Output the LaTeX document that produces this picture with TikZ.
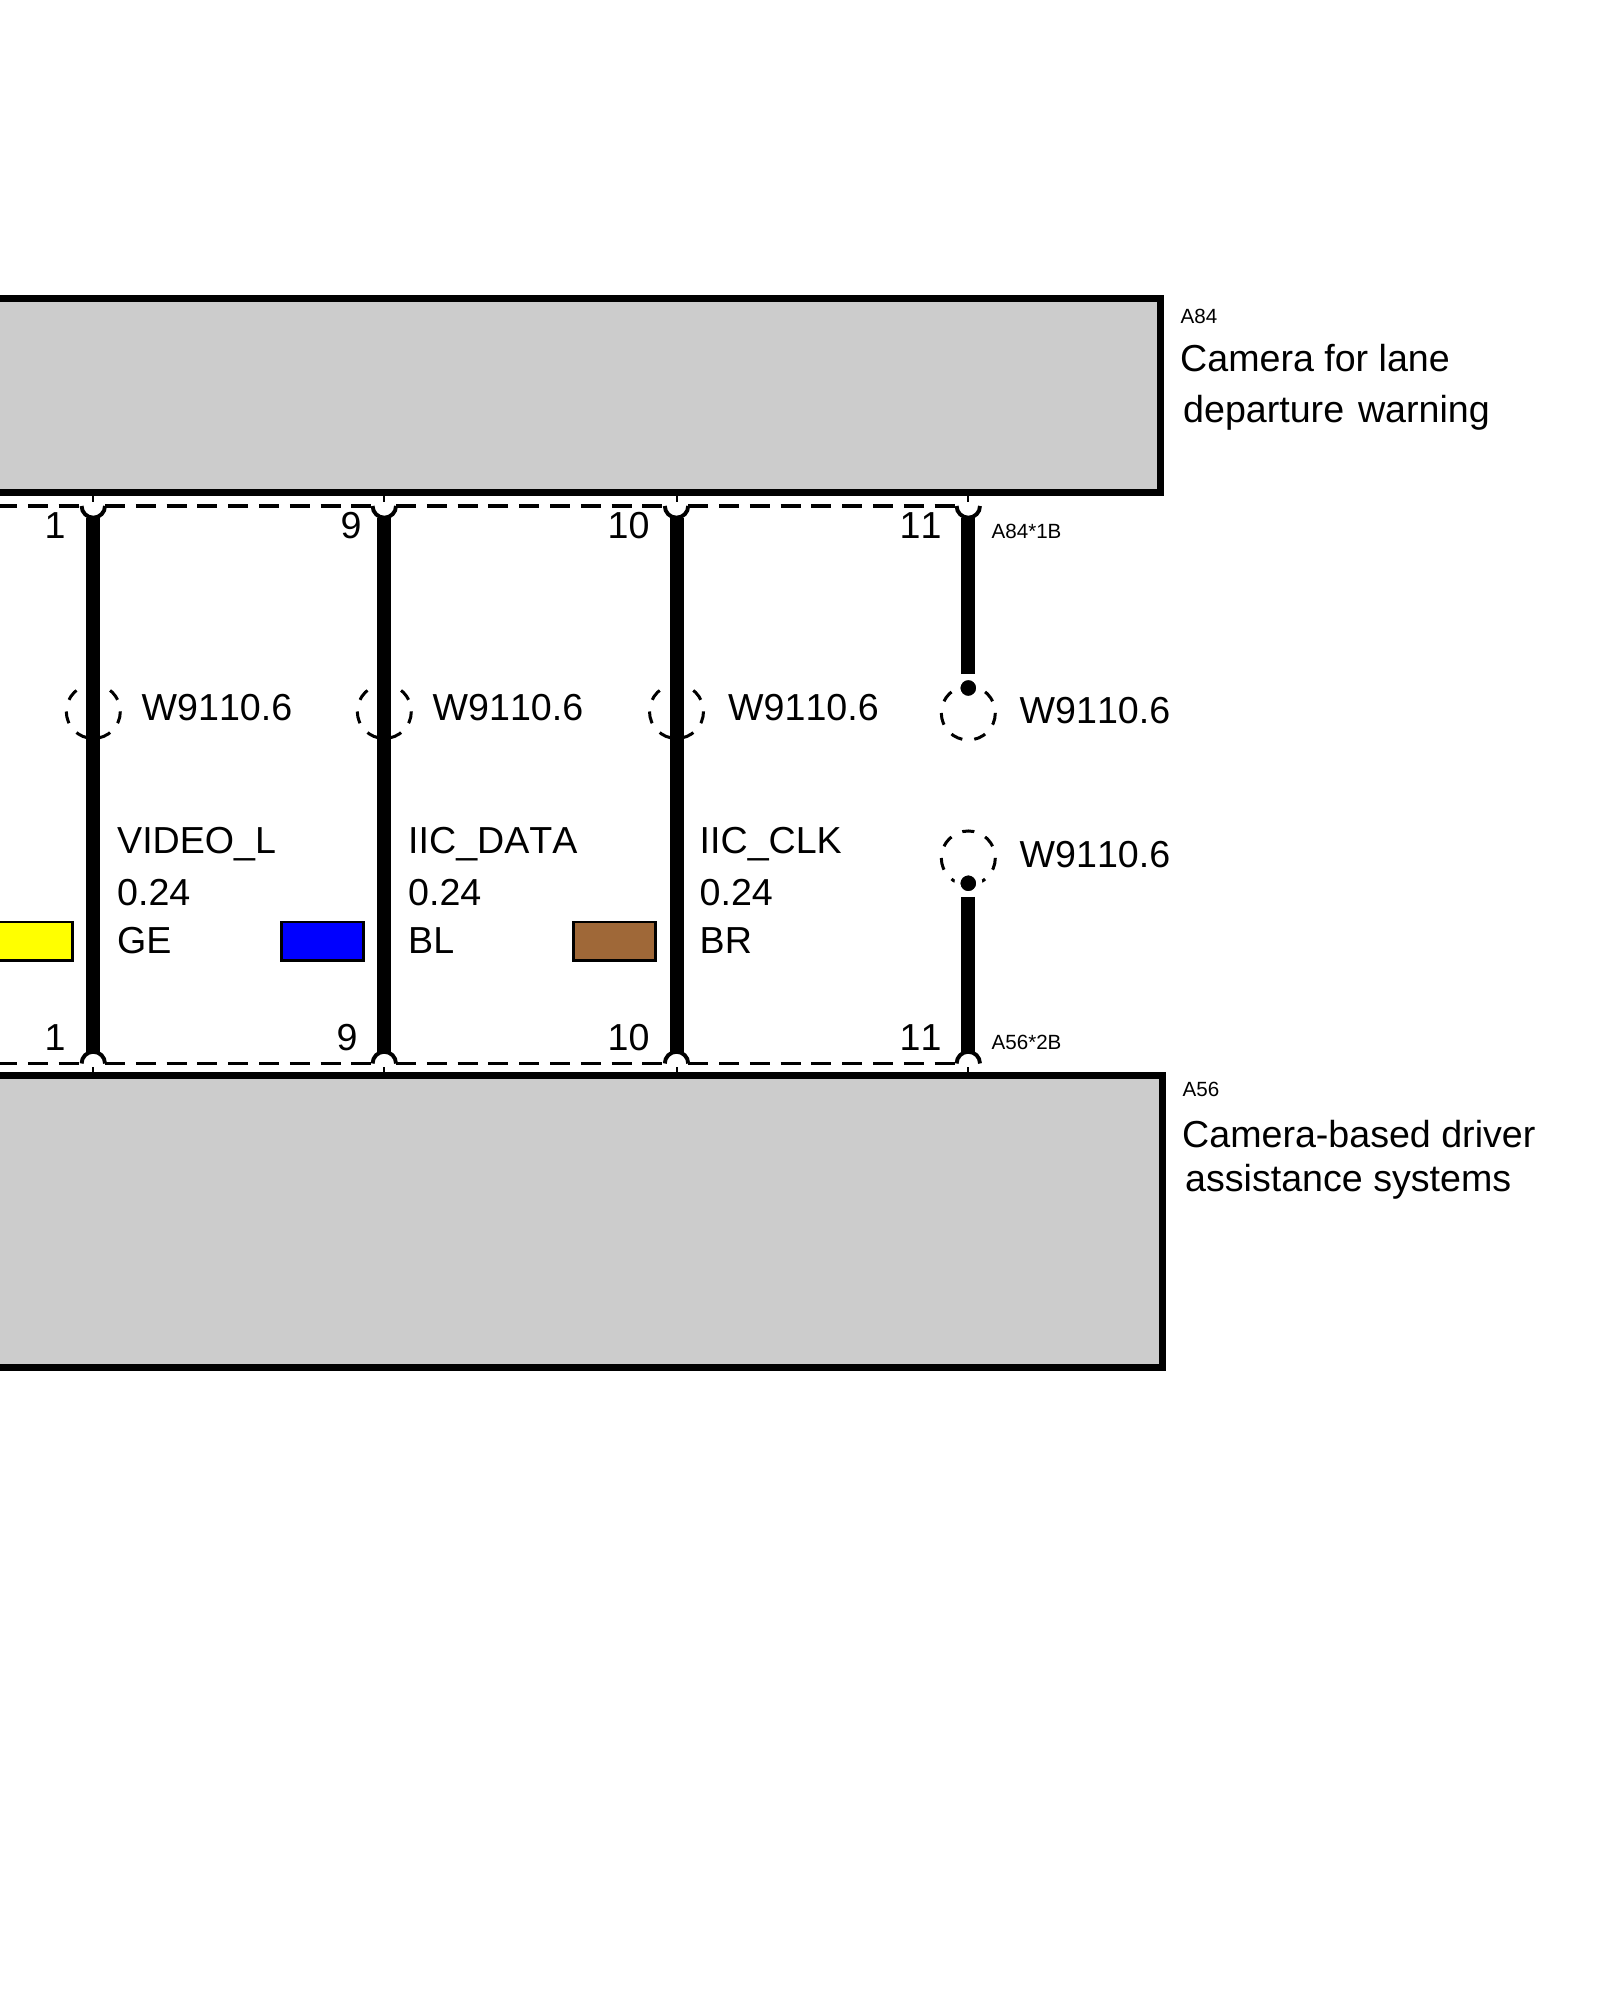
\documentclass[tikz,border=0pt]{standalone}
\usepackage{fontspec}
\setmainfont[Kerning=Off]{Liberation Sans}
\usetikzlibrary{positioning}
\definecolor{boxgray}{RGB}{204,204,204}
\definecolor{wireyellow}{RGB}{255,255,0}
\definecolor{wireblue}{RGB}{0,0,255}
\definecolor{wirebrown}{RGB}{159,104,56}
\tikzset{
    devbox/.style = {draw, fill = boxgray, line width = 0.07cm, inner sep = 0, outer sep = 0, anchor = south east},
    swatch/.style = {draw, line width = 0.026cm, inner sep = 0, outer sep = 0, minimum width = 0.82cm, minimum height = 0.385cm},
    pinpt/.style = {circle, fill = white, inner sep = 0, outer sep = 0, minimum size = 0.234cm},
    pinarc/.style = {line width = 0.039cm},
    pintick/.style = {line width = 0.02cm},
    dashline/.style = {line width = 0.034cm, dash pattern = on 0.2cm off 0.108cm},
    wire/.style = {line width = 0.14cm},
    splice/.style = {circle, draw, line width = 0.03cm, inner sep = 0, outer sep = 0, minimum size = 0.54cm, rotate = 90, dash pattern = on 0.121cm off 0.121cm, dash phase = 0.0605cm},
    splicedot/.style = {circle, fill = black, draw = white, line width = 0.06cm, inner sep = 0, outer sep = 0, minimum size = 0.22cm},
    lblbig/.style = {anchor = base west, inner sep = 0, font = \fontsize{10.7}{12}\selectfont},
    lblsmall/.style = {anchor = base west, inner sep = 0, font = \fontsize{5.85}{7}\selectfont}
}
\begin{document}
\begin{tikzpicture}

        \clip (0,0) rectangle (16,20);
        \fill[white] (0,0) rectangle (16,20);

        % Define pins and boxes
        \node[pinpt] (pinT1) at (0.933,14.94) {};
        \node[pinpt] (pinT2) at (3.843,14.94) {};
        \node[pinpt] (pinT3) at (6.765,14.94) {};
        \node[pinpt] (pinT4) at (9.683,14.94) {};
        \node[pinpt] (pinB1) at (0.933,9.365) {};
        \node[pinpt] (pinB2) at (3.843,9.365) {};
        \node[pinpt] (pinB3) at (6.765,9.365) {};
        \node[pinpt] (pinB4) at (9.683,9.365) {};
        \node[devbox, minimum width = 11.805cm, minimum height = 1.94cm] (boxA84) at (11.605,15.076) {};
        \node[devbox, minimum width = 11.825cm, minimum height = 2.92cm] (boxA56) at (11.625,6.32) {};
        \coordinate (dashT) at (-0.03,14.94);
        \coordinate (dashB) at (-0.03,9.365);
        \coordinate (stubT) at (9.683,13.26);
        \coordinate (stubB) at (9.683,11.03);

        % Dashed connector lines
        \draw[dashline] (dashT) -- (pinT1);
        \draw[dashline] (pinT1) -- (pinT2);
        \draw[dashline] (pinT2) -- (pinT3);
        \draw[dashline] (pinT3) -- (pinT4);
        \draw[dashline] (dashB) -- (pinB1);
        \draw[dashline] (pinB1) -- (pinB2);
        \draw[dashline] (pinB2) -- (pinB3);
        \draw[dashline] (pinB3) -- (pinB4);

        % Screen circles
        \node[splice] (spl1) at (0.933,12.885) {};
        \node[splice] (spl2) at (3.843,12.885) {};
        \node[splice] (spl3) at (6.765,12.885) {};
        \node[splice] (spl4) at (9.683,12.87) {};
        \node[splice] (spl5) at (9.683,11.42) {};
        \node[splicedot] (dotT) at (9.683,13.12) {};
        \node[splicedot] (dotB) at (9.683,11.167) {};

        % Wires
        \draw[wire] (pinT1) -- (pinB1);
        \draw[wire] (pinT2) -- (pinB2);
        \draw[wire] (pinT3) -- (pinB3);
        \draw[wire] (pinT4) -- (stubT);
        \draw[wire] (stubB) -- (pinB4);

        % Pin ends
        \draw[pinarc] (pinT1.east) arc (0:-180:0.117);
        \draw[pinarc] (pinT2.east) arc (0:-180:0.117);
        \draw[pinarc] (pinT3.east) arc (0:-180:0.117);
        \draw[pinarc] (pinT4.east) arc (0:-180:0.117);
        \draw[pinarc] (pinB1.east) arc (0:180:0.117);
        \draw[pinarc] (pinB2.east) arc (0:180:0.117);
        \draw[pinarc] (pinB3.east) arc (0:180:0.117);
        \draw[pinarc] (pinB4.east) arc (0:180:0.117);
        \draw[pintick] (pinT1 |- boxA84.south) -- ++(0,-0.096);
        \draw[pintick] (pinT2 |- boxA84.south) -- ++(0,-0.096);
        \draw[pintick] (pinT3 |- boxA84.south) -- ++(0,-0.096);
        \draw[pintick] (pinT4 |- boxA84.south) -- ++(0,-0.096);
        \draw[pintick] (pinB1 |- boxA56.north) -- ++(0,0.093);
        \draw[pintick] (pinB2 |- boxA56.north) -- ++(0,0.093);
        \draw[pintick] (pinB3 |- boxA56.north) -- ++(0,0.093);
        \draw[pintick] (pinB4 |- boxA56.north) -- ++(0,0.093);

        % Wire colours
        \node[swatch, fill = wireyellow] (swGE) at (0.3175,10.588) {};
        \node[swatch, fill = wireblue] (swBL) at (3.225,10.588) {};
        \node[swatch, fill = wirebrown] (swBR) at (6.142,10.588) {};

        % Pin numbers
        \node[lblbig] (numT1) at (0.44,14.61) {1};
        \node[lblbig] (numT2) at (3.40,14.61) {9};
        \node[lblbig] (numT3) at (6.07,14.61) {10};
        \node[lblbig] (numT4) at (8.99,14.61) {11};
        \node[lblbig] (numB1) at (0.44,9.49) {1};
        \node[lblbig] (numB2) at (3.36,9.49) {9};
        \node[lblbig] (numB3) at (6.07,9.49) {10};
        \node[lblbig] (numB4) at (8.99,9.49) {11};

        % Wire labels
        \node[lblbig] (scr1) at (1.41,12.79) {W9110.6};
        \node[lblbig] (scr2) at (4.32,12.79) {W9110.6};
        \node[lblbig] (scr3) at (7.275,12.79) {W9110.6};
        \node[lblbig] (scr4) at (10.19,12.76) {W9110.6};
        \node[lblbig] (scr5) at (10.19,11.32) {W9110.6};
        \node[lblbig] (sigGE) at (1.165,11.467) {VIDEO\_L};
        \node[lblbig] (sizeGE) at (1.165,10.943) {0.24};
        \node[lblbig] (colGE) at (1.165,10.467) {GE};
        \node[lblbig] (sigBL) at (4.075,11.467) {IIC\_DATA};
        \node[lblbig] (sizeBL) at (4.075,10.943) {0.24};
        \node[lblbig] (colBL) at (4.075,10.467) {BL};
        \node[lblbig] (sigBR) at (6.99,11.467) {IIC\_CLK};
        \node[lblbig] (sizeBR) at (6.99,10.943) {0.24};
        \node[lblbig] (colBR) at (6.99,10.467) {BR};

        % Device labels
        \node[lblsmall] (conA84) at (9.91,14.61) {A84*1B};
        \node[lblsmall] (conA56) at (9.91,9.50) {A56*2B};
        \node[lblsmall] (idA84) at (11.80,16.767) {A84};
        \node[lblbig] (nameA84a) at (11.795,16.285) {Camera for lane};
        \node[lblbig] (nameA84b) at (11.825,15.77) {departure\hspace{0.035cm} warning};
        \node[lblsmall] (idA56) at (11.82,9.033) {A56};
        \node[lblbig] (nameA56a) at (11.815,8.52) {Camera-based driver};
        \node[lblbig] (nameA56b) at (11.845,8.085) {assistance systems};
    \end{tikzpicture}
\end{document}
